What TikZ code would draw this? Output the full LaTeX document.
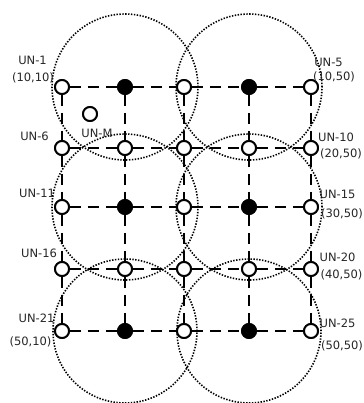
\documentclass[tikz,border=0pt]{standalone}
\usepackage{fontspec}
\setmainfont{DejaVu Sans}
\begin{document}
\begin{tikzpicture}[x=1pt,y=-1pt,
  opn/.style={circle, draw, line width=1.9pt, fill=white, minimum size=14pt, inner sep=0pt},
  full/.style={opn, fill=black},
  link/.style={line width=1.8pt, dash pattern=on 11pt off 7pt},
  reach/.style={line width=1.6pt, dash pattern=on 1.4pt off 1.5pt},
  tag/.style={text=black!85, inner sep=0pt, font=\fontsize{11.5}{13}\selectfont}]

\useasboundingbox (0,0) rectangle (363,403);

% grid of nodes
\node[opn]  (un1)  at (62,87)  {};
\node[full] (un2)  at (125,87) {};
\node[opn]  (un3)  at (184,87) {};
\node[full] (un4)  at (249,87) {};
\node[opn]  (un5)  at (311,87) {};

\node[opn]  (un6)  at (62,148)  {};
\node[opn]  (un7)  at (125,148) {};
\node[opn]  (un8)  at (184,148) {};
\node[opn]  (un9)  at (249,148) {};
\node[opn]  (un10) at (311,148) {};

\node[opn]  (un11) at (62,207)  {};
\node[full] (un12) at (125,207) {};
\node[opn]  (un13) at (184,207) {};
\node[full] (un14) at (249,207) {};
\node[opn]  (un15) at (311,207) {};

\node[opn]  (un16) at (62,269)  {};
\node[opn]  (un17) at (125,269) {};
\node[opn]  (un18) at (184,269) {};
\node[opn]  (un19) at (249,269) {};
\node[opn]  (un20) at (311,269) {};

\node[opn]  (un21) at (62,331)  {};
\node[full] (un22) at (125,331) {};
\node[opn]  (un23) at (184,331) {};
\node[full] (un24) at (249,331) {};
\node[opn]  (un25) at (311,331) {};

\node[opn]  (unm)  at (90,114) {};

% ranges
\draw[reach] (un2) circle[radius=73pt];
\draw[reach] (un4) circle[radius=73pt];
\draw[reach] (un12) circle[radius=73pt];
\draw[reach] (un14) circle[radius=73pt];
\draw[reach] (un22) circle[radius=72pt];
\draw[reach] (un24) circle[radius=72pt];

% links
\draw[link] (un1) -- (un2) -- (un3) -- (un4) -- (un5);
\draw[link] (un6) -- (un7) -- (un8) -- (un9) -- (un10);
\draw[link] (un11) -- (un12) -- (un13) -- (un14) -- (un15);
\draw[link] (un16) -- (un17) -- (un18) -- (un19) -- (un20);
\draw[link] (un21) -- (un22) -- (un23) -- (un24) -- (un25);

\draw[link] (un1) -- (un6) -- (un11) -- (un16) -- (un21);
\draw[link] (un2) -- (un7) -- (un12) -- (un17) -- (un22);
\draw[link] (un3) -- (un8) -- (un13) -- (un18) -- (un23);
\draw[link] (un4) -- (un9) -- (un14) -- (un19) -- (un24);
\draw[link] (un5) -- (un10) -- (un15) -- (un20) -- (un25);

% redraw nodes on top
\foreach \n in {un1,un3,un5,un6,un7,un8,un9,un10,un11,un13,un15,un16,un17,un18,un19,un20,un21,un23,un25,unm}
  \node[opn] at (\n) {};
\foreach \n in {un2,un4,un12,un14,un22,un24}
  \node[full] at (\n) {};

% labels
\node[tag] (t1)  at (32.5,60) {UN-1};
\node[tag] (c1)  at (33,78)   {(10,10)};
\node[tag] (t6)  at (34.5,136) {UN-6};
\node[tag] (tm)  at (97,133)  {UN-M};
\node[tag] (t11) at (37,193)  {UN-11};
\node[tag] (t16) at (39,253)  {UN-16};
\node[tag] (t21) at (36.5,318) {UN-21};
\node[tag] (c21) at (30.5,342) {(50,10)};

\node[tag] (t5)  at (328.5,62) {UN-5};
\node[tag] (c5)  at (334,77)   {(10,50)};
\node[tag] (t10) at (336,137)  {UN-10};
\node[tag] (c10) at (341,154)  {(20,50)};
\node[tag] (t15) at (337.5,194) {UN-15};
\node[tag] (c15) at (342,214)  {(30,50)};
\node[tag] (t20) at (337.5,257) {UN-20};
\node[tag] (c20) at (341.5,275) {(40,50)};
\node[tag] (t25) at (337.5,323) {UN-25};
\node[tag] (c25) at (342,346)  {(50,50)};

\end{tikzpicture}
\end{document}
